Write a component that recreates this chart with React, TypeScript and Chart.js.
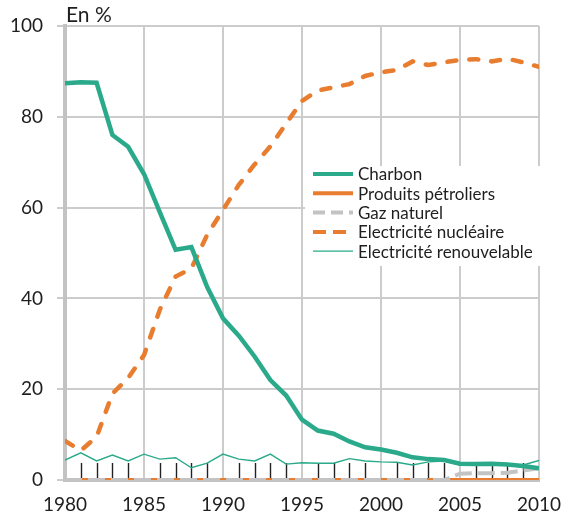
import { useEffect, useRef } from 'react';
import { Chart, registerables } from 'chart.js';

Chart.register(...registerables);

const years = [1980, 1981, 1982, 1983, 1984, 1985, 1986, 1987, 1988, 1989, 1990, 1991, 1992, 1993, 1994, 1995, 1996, 1997, 1998, 1999, 2000, 2001, 2002, 2003, 2004, 2005, 2006, 2007, 2008, 2009, 2010];

const charbon = [87.4, 87.6, 87.5, 76.0, 73.4, 67.4, 59.0, 50.7, 51.3, 42.5, 35.6, 31.8, 27.2, 22.0, 18.6, 13.3, 10.9, 10.2, 8.5, 7.2, 6.7, 6.0, 5.0, 4.6, 4.4, 3.6, 3.5, 3.6, 3.4, 3.1, 2.6];
const produitsPetroliers = [0, 0, 0, 0, 0, 0, 0, 0, 0, 0, 0, 0, 0, 0, 0, 0, 0, 0, 0, 0, 0, 0, 0, 0, 0, 0, 0, 0, 0, 0, 0];
const gazNaturel = [0, 0, 0, 0, 0, 0, 0, 0, 0, 0, 0, 0, 0, 0, 0, 0, 0, 0, 0, 0, 0, 0, 0, 0, 0, 1.4, 1.5, 1.5, 1.6, 2.1, 2.6];
const nucleaire = [8.6, 6.5, 9.5, 19.0, 22.5, 27.5, 37.5, 44.8, 46.6, 54.0, 59.5, 65.0, 69.5, 73.5, 78.5, 83.5, 85.8, 86.5, 87.2, 89.0, 89.8, 90.3, 92.2, 91.4, 92.0, 92.5, 92.7, 92.2, 92.8, 92.0, 91.0];
const renouvelable = [4.4, 6.0, 4.2, 5.5, 4.2, 5.7, 4.6, 4.9, 2.7, 3.7, 5.7, 4.6, 4.2, 5.7, 3.5, 3.8, 3.7, 3.7, 4.7, 4.2, 4.0, 3.9, 3.3, 4.0, 4.2, 3.3, 3.3, 3.3, 3.4, 3.3, 4.3];

const yTicks = [0, 20, 40, 60, 80, 100];
const xTicks = [1980, 1985, 1990, 1995, 2000, 2005, 2010];

const legendLabels = ['Charbon', 'Produits pétroliers', 'Gaz naturel', 'Electricité nucléaire', 'Electricité renouvelable'];
const unitLabel = 'En %';

const TEAL = '#2aaa8a';
const ORANGE = '#e87d30';
const GRAY = '#c3c3c3';
const GRID = '#cccccc';
const TEXT = '#1e1e1e';
const FONT = 'Lato, "Open Sans", sans-serif';

const toPoints = (arr: number[]) => years.map((yr, i) => ({ x: yr, y: arr[i] }));

const legendStyles = [
  { color: TEAL, width: 4, dash: [] as number[] },
  { color: ORANGE, width: 4, dash: [] as number[] },
  { color: GRAY, width: 4, dash: [12, 6] },
  { color: ORANGE, width: 4, dash: [13, 7] },
  { color: TEAL, width: 1.3, dash: [] as number[] },
];

const extrasPlugin = {
  id: 'extras',
  beforeDatasetsDraw(chart: any) {
    const { ctx } = chart;
    const xs = chart.scales.x;
    const ys = chart.scales.y;
    const base = ys.getPixelForValue(0);
    ctx.save();
    ctx.strokeStyle = '#222';
    ctx.lineWidth = 1.4;
    years.forEach((yr) => {
      if (yr % 5 === 0) return;
      const px = Math.round(xs.getPixelForValue(yr)) + 0.5;
      ctx.beginPath();
      ctx.moveTo(px, base - 2);
      ctx.lineTo(px, base - 17);
      ctx.stroke();
    });
    ctx.restore();
  },
  afterDraw(chart: any) {
    const { ctx, chartArea } = chart;
    ctx.save();
    ctx.fillStyle = TEXT;
    ctx.font = `21px ${FONT}`;
    ctx.textBaseline = 'alphabetic';
    ctx.textAlign = 'left';
    ctx.fillText(unitLabel, chartArea.left + 1, 22);

    const bx = chartArea.left + 240;
    const by = chartArea.top + 140;
    ctx.fillStyle = '#ffffff';
    ctx.fillRect(bx, by, 238, 100);
    ctx.font = `17px ${FONT}`;
    ctx.textBaseline = 'middle';
    legendLabels.forEach((label, i) => {
      const ry = by + 8 + i * 19.3;
      const st = legendStyles[i];
      ctx.strokeStyle = st.color;
      ctx.lineWidth = st.width;
      ctx.setLineDash(st.dash);
      ctx.lineCap = 'butt';
      ctx.beginPath();
      ctx.moveTo(bx + 8, ry);
      ctx.lineTo(bx + 48, ry);
      ctx.stroke();
      ctx.setLineDash([]);
      ctx.fillStyle = TEXT;
      ctx.fillText(label, bx + 53, ry + 1);
    });
    ctx.restore();
  },
};

export default function App() {
  const ref = useRef<HTMLCanvasElement>(null);

  useEffect(() => {
    if (!ref.current) return;
    const chart = new Chart(ref.current, {
      type: 'line',
      data: {
        datasets: [
          {
            label: legendLabels[0],
            data: toPoints(charbon),
            borderColor: TEAL,
            borderWidth: 4.5,
            pointRadius: 0,
            tension: 0,
          },
          {
            label: legendLabels[3],
            data: toPoints(nucleaire),
            borderColor: ORANGE,
            borderWidth: 4.5,
            borderDash: [9, 13],
            borderCapStyle: 'round',
            pointRadius: 0,
            tension: 0,
          },
          {
            label: legendLabels[2],
            data: toPoints(gazNaturel),
            borderColor: GRAY,
            borderWidth: 4,
            borderDash: [17, 6],
            pointRadius: 0,
            tension: 0,
          },
          {
            label: legendLabels[1],
            data: toPoints(produitsPetroliers),
            borderColor: ORANGE,
            borderWidth: 4,
            pointRadius: 0,
            tension: 0,
          },
          {
            label: legendLabels[4],
            data: toPoints(renouvelable),
            borderColor: TEAL,
            borderWidth: 1.4,
            pointRadius: 0,
            tension: 0,
          },
        ] as any,
      },
      options: {
        animation: false,
        responsive: false,
        devicePixelRatio: 1,
        layout: { padding: { left: 0, right: 29, top: 26, bottom: 0 } },
        plugins: {
          legend: { display: false },
          tooltip: { enabled: false },
        },
        scales: {
          x: {
            type: 'linear',
            min: 1980,
            max: 2010,
            afterBuildTicks: (scale: any) => {
              scale.ticks = xTicks.map((v) => ({ value: v }));
            },
            ticks: {
              callback: (v: any) => String(v),
              font: { family: FONT, size: 19 },
              color: TEXT,
              padding: 13,
              maxRotation: 0,
            },
            grid: { color: GRID, lineWidth: 2, drawTicks: false },
            border: { color: GRAY, width: 4 },
            afterFit: (scale: any) => {
              scale.height = 40;
            },
          },
          y: {
            type: 'linear',
            min: 0,
            max: 100,
            afterBuildTicks: (scale: any) => {
              scale.ticks = yTicks.map((v) => ({ value: v }));
            },
            ticks: {
              callback: (v: any) => String(v),
              font: { family: FONT, size: 19 },
              color: TEXT,
              padding: 14,
            },
            grid: { color: GRID, lineWidth: 2, tickLength: 8, tickColor: GRID },
            border: { color: GRAY, width: 4 },
            afterFit: (scale: any) => {
              scale.width = 65;
            },
          },
        },
      } as any,
      plugins: [extrasPlugin],
    });
    return () => chart.destroy();
  }, []);

  return (
    <div style={{ position: 'absolute', left: 0, top: 0, width: 574, height: 520 }}>
      <canvas ref={ref} width={574} height={520} />
    </div>
  );
}
